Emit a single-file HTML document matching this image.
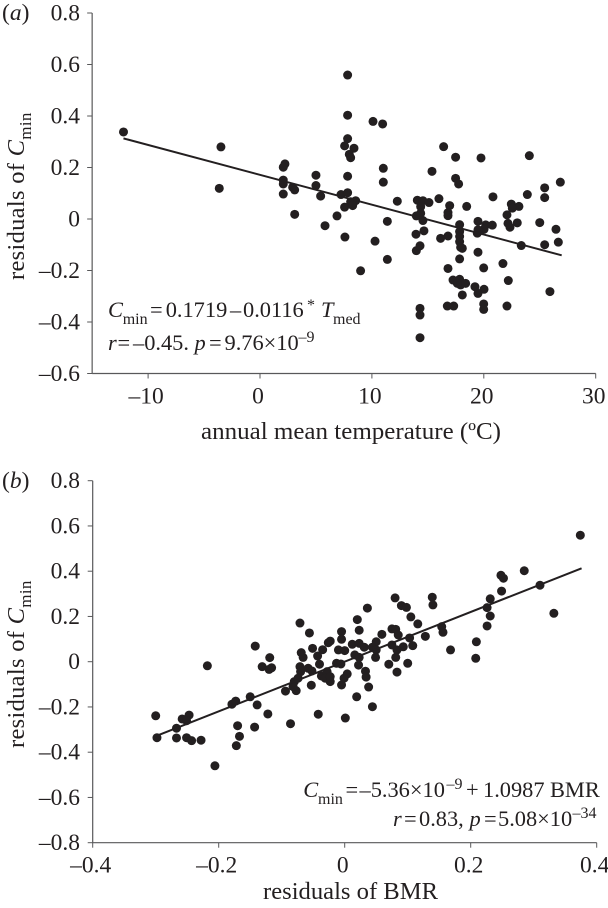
<!DOCTYPE html>
<html lang="en">
<head>
<meta charset="utf-8">
<title>Residuals of Cmin scatter plots</title>
<style>
html,body{margin:0;padding:0;background:#fff;width:608px;height:908px;overflow:hidden}
svg{display:block}
text{font-family:"Liberation Serif",serif;fill:#231f20}
.tick{font-size:23.5px}
.lab{font-size:24.5px}
.ylab{letter-spacing:.3px}
.ann{font-size:22.4px}
.sub{font-size:16px}
i{font-style:italic}
</style>
</head>
<body>
<svg id="fig" xmlns="http://www.w3.org/2000/svg" width="608" height="908" viewBox="0 0 608 908">
  <g id="panelA"></g>
  <g id="panelB"></g>

  <text x="2" y="20" class="tick">(<tspan font-style="italic">a</tspan>)</text>
  <text x="2" y="488" class="tick">(<tspan font-style="italic">b</tspan>)</text>

  <text transform="translate(24,280) rotate(-90)" class="lab ylab">residuals of <tspan font-style="italic">C</tspan><tspan font-size="17" dy="7">min</tspan></text>
  <text transform="translate(24,748) rotate(-90)" class="lab ylab">residuals of <tspan font-style="italic">C</tspan><tspan font-size="17" dy="7">min</tspan></text>

  <text x="201" y="439" class="lab" textLength="300" lengthAdjust="spacingAndGlyphs">annual mean temperature (ºC)</text>
  <text x="263" y="899" class="lab" textLength="175" lengthAdjust="spacingAndGlyphs">residuals of BMR</text>

  <text class="ann"><tspan x="108" y="317" font-style="italic">C</tspan><tspan class="sub" x="122.7" y="324">min</tspan><tspan x="150" y="317">=</tspan><tspan x="165.7" y="317">0.1719</tspan><tspan x="230" y="317">–</tspan><tspan x="243" y="317">0.0116</tspan><tspan class="sub" x="307" y="310">*</tspan><tspan x="321" y="317" font-style="italic">T</tspan><tspan class="sub" x="333" y="324">med</tspan></text>
  <text class="ann"><tspan x="108" y="350" font-style="italic">r</tspan><tspan x="117.5" y="350">=</tspan><tspan x="133" y="350">–0.45.</tspan><tspan x="194.5" y="350" font-style="italic">p</tspan><tspan x="209" y="350">=</tspan><tspan x="224.5" y="350">9.76×10</tspan><tspan class="sub" x="298.5" y="342">–9</tspan></text>

  <text class="ann"><tspan x="303.3" y="797" font-style="italic">C</tspan><tspan class="sub" x="318" y="804">min</tspan><tspan x="345.5" y="797">=</tspan><tspan x="359.5" y="797">–5.36×10</tspan><tspan class="sub" x="446.5" y="789">–9</tspan><tspan x="466" y="797">+</tspan><tspan x="483" y="797">1.0987</tspan><tspan x="550" y="797">BMR</tspan></text>
  <text class="ann"><tspan x="393" y="826" font-style="italic">r</tspan><tspan x="404" y="826">=</tspan><tspan x="419" y="826">0.83,</tspan><tspan x="469.5" y="826" font-style="italic">p</tspan><tspan x="484" y="826">=</tspan><tspan x="498" y="826">5.08×10</tspan><tspan class="sub" x="572.5" y="818">–34</tspan></text>
</svg>
<script>
// Panel (a): annual mean temperature vs residuals of Cmin
const aTemp = [-12.2,-3.49,-3.64,2.23,2.08,2.08,2.08,2.08,2.92,3.10,3.10,
7.83,7.83,10.10,10.96,7.83,7.56,8.40,7.98,8.10,11.02,7.83,11.02,5.00,5.00,5.42,7.24,7.83,8.55,8.10,8.28,7.56,6.88,5.81,7.59,10.28,11.38,12.27,14.06,14.56,15.10,14.36,15.99,15.37,16.41,17.48,19.75,24.07,26.84,25.44,25.44,23.89,20.82,17.48,17.75,16.95,18.47,16.80,16.80,14.36,13.97,14.56,14.65,13.94,22.46,23.14,22.55,22.07,22.16,22.99,22.34,25.0,26.45,26.66,25.44,23.35,19.48,20.17,20.76,20.02,19.48,19.42,17.84,17.84,17.84,17.84,17.93,16.80,16.14,
13.97,14.30,19.48,17.84,18.08,11.38,8.99,16.80,19.99,21.71,22.19,17.25,17.84,17.63,17.93,18.38,19.21,20.02,19.48,18.08,25.91,16.74,17.31,19.99,19.99,22.07,14.30,14.30,14.30];
const aResid = [.338,.280,.119,.214,.201,.151,.136,.097,.123,.113,.018,
.559,.403,.379,.369,.312,.284,.275,.251,.238,.197,.166,.143,.170,.130,.089,.095,.102,.071,.067,.052,.046,.012,-.026,-.070,-.086,-.009,.069,.073,.071,.064,.048,.079,.185,.281,.240,.237,.246,.143,.121,.083,.095,.086,.158,.136,.052,.049,.025,.013,.022,.012,-.006,-.046,-.059,.058,.049,.042,.016,-.017,-.015,-.032,-.014,-.040,-.090,-.100,-.103,-.009,-.023,-.024,-.040,-.042,-.055,-.022,-.049,-.068,-.088,-.110,-.066,-.075,
-.123,-.104,-.129,-.155,-.114,-.157,-.201,-.192,-.190,-.173,-.239,-.237,-.234,-.250,-.256,-.250,-.263,-.273,-.289,-.295,-.282,-.338,-.338,-.330,-.351,-.338,-.347,-.373,-.461];
const aFitX = [-12.2, 26.96];
const aFitY = [0.313, -0.141];
const aXTicks = [-10, 0, 10, 20, 30];
const aXTickLabels = ['–10', '0', '10', '20', '30'];
const aYTicks = [0.8, 0.6, 0.4, 0.2, 0, -0.2, -0.4, -0.6];
const aYTickLabels = ['0.8', '0.6', '0.4', '0.2', '0', '–0.2', '–0.4', '–0.6'];

// Panel (b): residuals of BMR vs residuals of Cmin
const bBmr = [-.300,-.298,-.267,-.267,-.258,-.247,-.251,-.251,-.243,-.228,-.206,-.179,-.173,-.150,-.139,-.122,-.170,-.143,-.167,-.172,
-.218,-.142,-.119,-.131,-.116,-.120,-.094,-.086,
.080,.090,.098,.036,.105,.020,-.071,-.056,-.005,.023,.059,.116,.075,.081,.085,-.005,-.023,-.026,-.051,-.035,-.069,-.066,-.043,-.040,-.010,.000,.012,.023,.031,.016,.023,-.013,-.006,.022,.050,.044,.050,.049,.070,.083,.100,.075,.093,.108,.103,.083,.081,.033,.034,.004,-.001,-.005,.038,.019,.044,.001,-.042,-.053,-.080,-.077,-.071,-.058,-.070,-.052,-.037,-.028,-.023,-.031,-.082,-.074,-.023,
.374,.285,.248,.252,.249,.310,.332,.231,.226,.231,.226,.209,.208,.139,.140,.154,.156,.128,.168];
const bResid = [-.239,-.336,-.294,-.337,-.253,-.236,-.261,-.336,-.349,-.347,-.460,-.188,-.174,-.155,-.191,-.231,-.283,-.289,-.330,-.371,
-.018,.069,.018,-.022,-.027,-.034,-.130,-.274,
.282,.248,.240,.237,.198,.186,.171,.127,.133,.139,.121,.167,.145,.143,.118,.099,.091,.084,.059,.053,.040,.019,.025,-.011,.052,.049,.077,.081,.064,.030,.019,-.007,-.010,-.015,.088,.064,.052,.019,-.011,-.046,-.007,.074,.066,.071,.105,.052,.019,-.042,-.068,-.054,-.073,-.103,-.112,-.155,-.199,-.249,-.232,-.104,-.088,-.128,-.022,-.029,-.044,-.041,-.063,-.044,-.088,-.073,-.110,-.073,-.066,
.559,.402,.382,.369,.312,.338,.214,.278,.239,.202,.158,.088,.015,.285,.251,.155,.130,.112,.052];
const bFitX = [-0.298, 0.376];
const bFitY = [-0.327, 0.413];
const bXTicks = [-0.4, -0.2, 0, 0.2, 0.4];
const bXTickLabels = ['–0.4', '–0.2', '0', '0.2', '0.4'];
const bYTicks = [0.8, 0.6, 0.4, 0.2, 0, -0.2, -0.4, -0.6, -0.8];
const bYTickLabels = ['0.8', '0.6', '0.4', '0.2', '0', '–0.2', '–0.4', '–0.6', '–0.8'];

const NS = 'http://www.w3.org/2000/svg';
const INK = '#231f20';
const AXIS = '#58585a';

function shape(parent, tag, attrs) {
  const el = document.createElementNS(NS, tag);
  for (const k in attrs) el.setAttribute(k, attrs[k]);
  parent.appendChild(el);
  return el;
}

function drawPanel(g, xs, ys, fitX, fitY, xTicks, xLabels, yTicks, yLabels, sx, sy, axisLeft, axisRight, axisTop, axisBottom) {
  const yLine = shape(g, 'line', {x1: axisLeft, x2: axisLeft, y1: axisTop, y2: axisBottom, stroke: AXIS, 'stroke-width': 1.2});
  
  
  const xLine = shape(g, 'line', {x1: axisLeft, x2: axisRight, y1: axisBottom, y2: axisBottom, stroke: AXIS, 'stroke-width': 1.2});
  
  

  yTicks.forEach(function (v, i) {
    const tick = shape(g, 'line', {x1: axisLeft - 5, x2: axisLeft, y1: sy(v), y2: sy(v), stroke: AXIS, 'stroke-width': 1});
    
    
    const label = shape(g, 'text', {x: 80, y: sy(v) + 7.5, 'text-anchor': 'end', class: 'tick'});
    label.textContent = yLabels[i];
    
    
  });

  xTicks.forEach(function (v, i) {
    const tick = shape(g, 'line', {x1: sx(v), x2: sx(v), y1: axisBottom, y2: axisBottom + 5, stroke: AXIS, 'stroke-width': 1});
    
    
    const label = shape(g, 'text', {x: sx(v) - 2, y: axisBottom + 30, 'text-anchor': 'middle', class: 'tick'});
    label.textContent = xLabels[i];
    
    
  });

  xs.forEach(function (v, i) {
    const dot = shape(g, 'circle', {cx: sx(v), cy: sy(ys[i]), r: 4.5, fill: INK});
    
    
  });

  const fit = shape(g, 'line', {x1: sx(fitX[0]), y1: sy(fitY[0]), x2: sx(fitX[1]), y2: sy(fitY[1]), stroke: INK, 'stroke-width': 2});
  
  
}

function xA(v) { return 260 + v * 11.19; }
function yA(v) { return 219 - v * 257.5; }
function xB(v) { return 344.7 + v * 630; }
function yB(v) { return 661.7 - v * 226.25; }

drawPanel(document.getElementById('panelA'), aTemp, aResid, aFitX, aFitY, aXTicks, aXTickLabels, aYTicks, aYTickLabels, xA, yA, xA(-15), xA(30), yA(0.8), yA(-0.6));
drawPanel(document.getElementById('panelB'), bBmr, bResid, bFitX, bFitY, bXTicks, bXTickLabels, bYTicks, bYTickLabels, xB, yB, xB(-0.4), xB(0.4), yB(0.8), yB(-0.8));
</script>
</body>
</html>
